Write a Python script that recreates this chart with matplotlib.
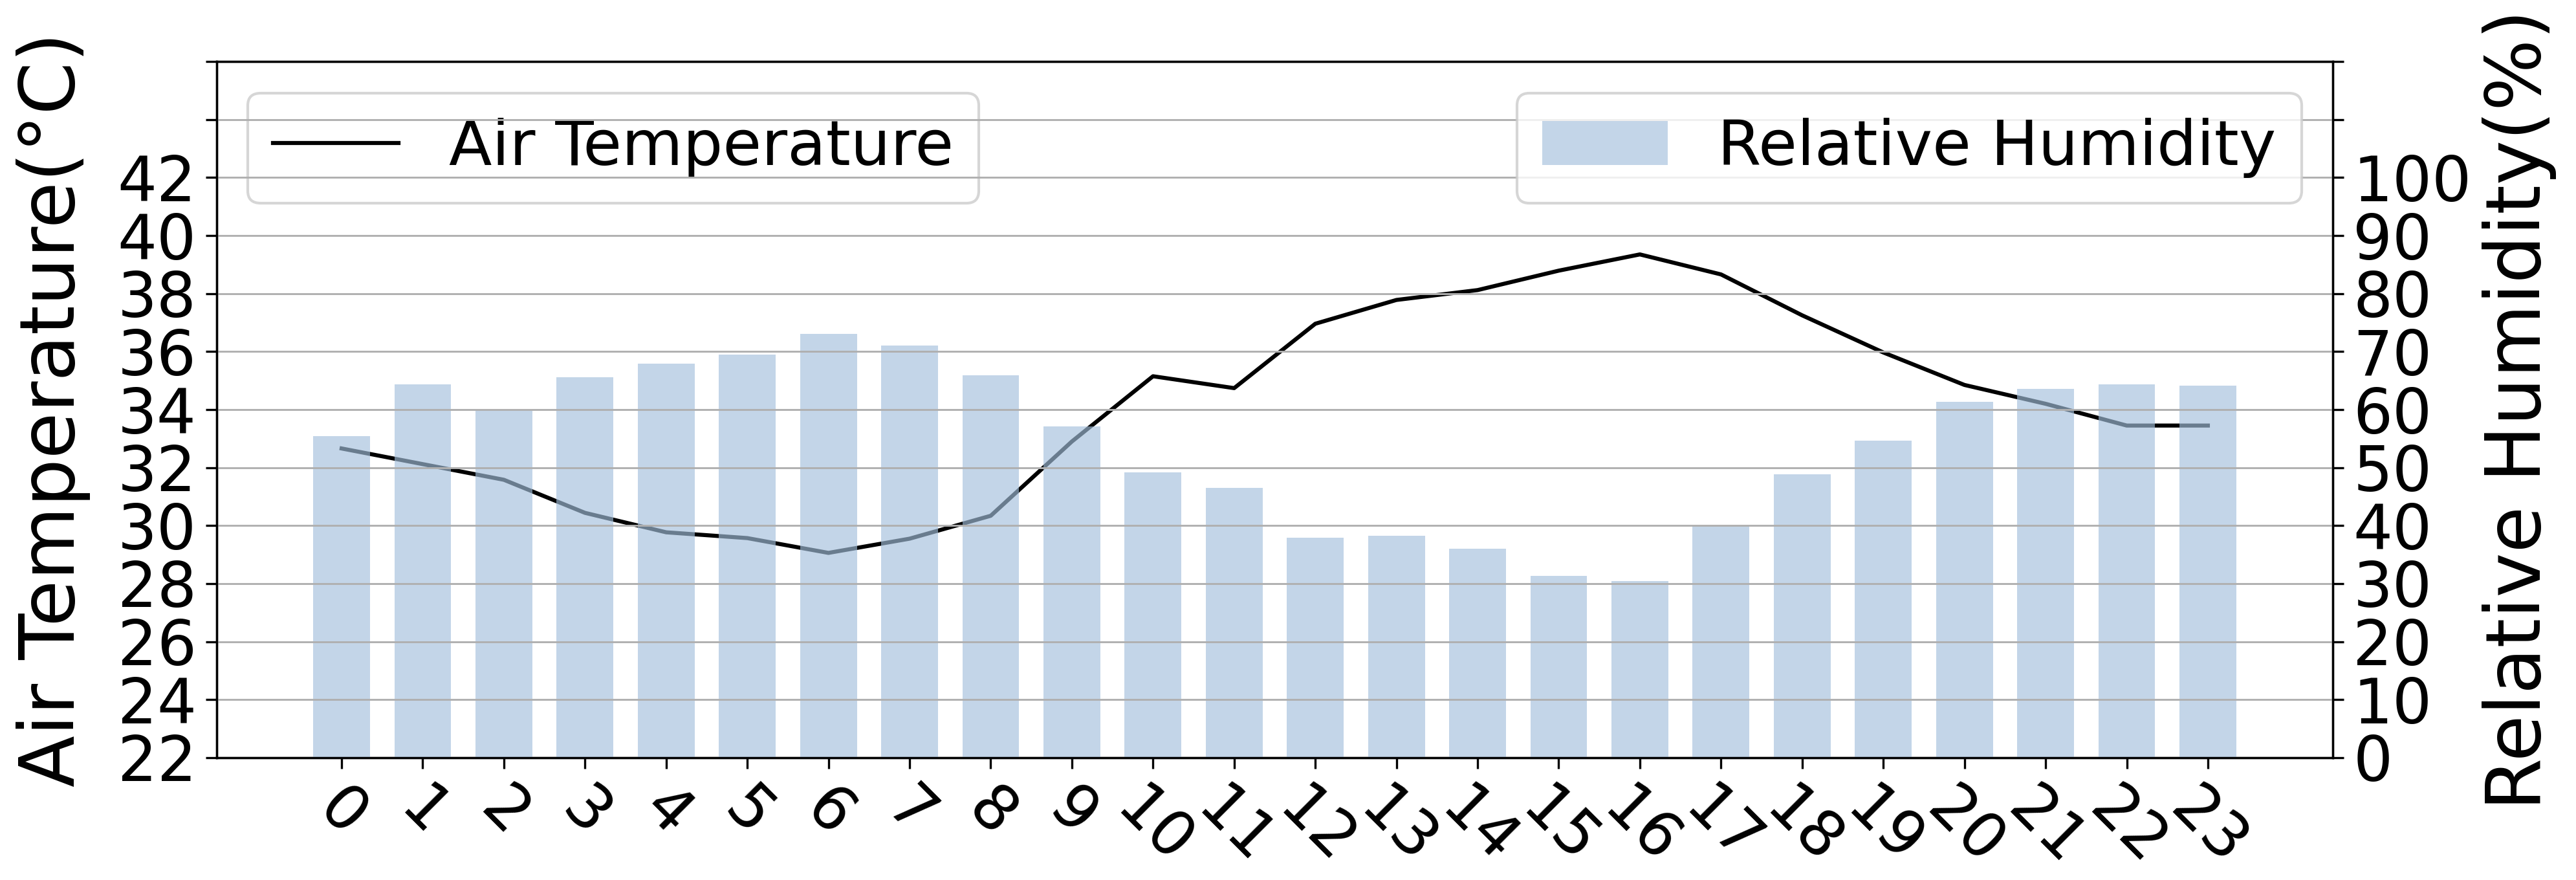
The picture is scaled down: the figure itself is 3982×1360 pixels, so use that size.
import matplotlib
matplotlib.use("Agg")
import matplotlib.pyplot as plt

# hourly values
hours = list(range(24))
air_temp = [32.66, 32.12, 31.58, 30.44, 29.77, 29.57, 29.06, 29.55, 30.34, 32.9,
            35.15, 34.74, 36.96, 37.78, 38.12, 38.79, 39.35, 38.66, 37.25, 35.97,
            34.85, 34.2, 33.45, 33.45]
humidity = [55.4, 64.4, 60.0, 65.6, 67.9, 69.5, 73.0, 71.0, 65.9, 57.1,
            49.2, 46.5, 37.9, 38.25, 36.0, 31.3, 30.5, 39.9, 48.9, 54.7,
            61.3, 63.6, 64.4, 64.1]

temp_ticks = list(range(22, 47, 2))
temp_labels = [str(t) if t <= 42 else "" for t in temp_ticks]
hum_ticks = list(range(0, 121, 10))
hum_labels = [str(h) if h <= 100 else "" for h in hum_ticks]

fig, ax = plt.subplots(figsize=(3982 / 300, 1360 / 300), dpi=300)
fig.subplots_adjust(left=0.0841, right=0.9056, top=0.9301, bottom=0.139)

ax.plot(hours, air_temp, color="black", linewidth=1.5, label="Air Temperature")
ax.set_ylim(22, 46)
ax.set_yticks(temp_ticks, temp_labels)
ax.set_xlim(-1.54, 24.54)
ax.set_xticks(hours)
ax.set_xticklabels([str(h) for h in hours], rotation=-45)
ax.tick_params(axis="both", labelsize=23, length=4)
ax.set_ylabel("Air Temperature(°C)", fontsize=28, labelpad=10)

ax2 = ax.twinx()
ax2.bar(hours, humidity, width=0.7, color="#a3bfdc", alpha=0.65, label="Relative Humidity")
ax2.set_ylim(0, 120)
ax2.set_yticks(hum_ticks, hum_labels)
ax2.tick_params(axis="y", labelsize=23, length=4)
ax2.set_ylabel("Relative Humidity(%)", fontsize=28)
ax2.grid(axis="y", color="#b0b0b0", linewidth=0.7)

ax.legend(loc="upper left", fontsize=23.3)
ax2.legend(loc="upper right", fontsize=23.3)

fig.savefig("out.png", dpi=300)
